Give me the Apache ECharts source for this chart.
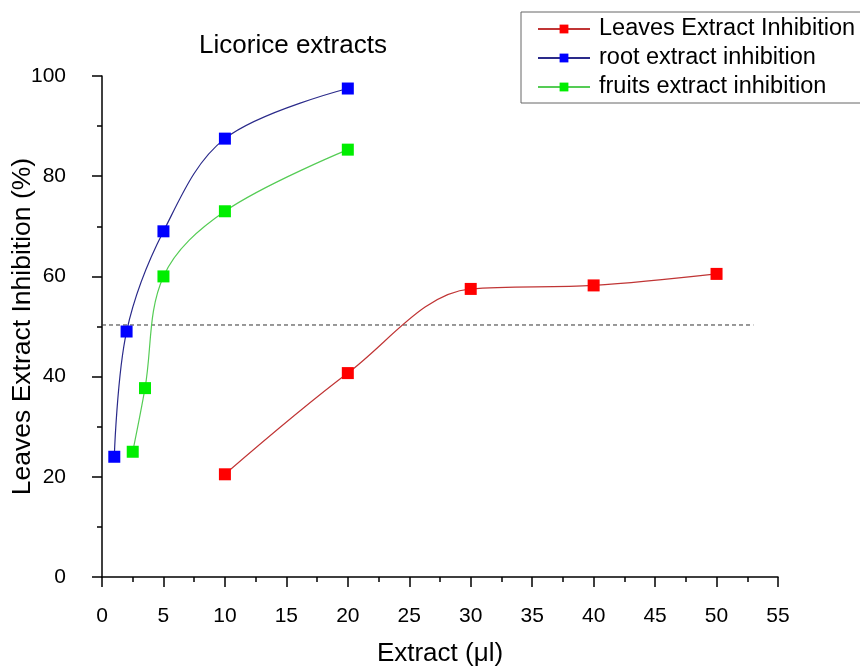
<!DOCTYPE html>
<html>
<head>
<meta charset="utf-8">
<script src="https://cdn.jsdelivr.net/npm/echarts@6/dist/echarts.min.js"></script>
<style>html,body{margin:0;padding:0;background:#fff}#c{width:860px;height:668px}</style>
</head>
<body>
<div id="c"></div>
<script>
const leavesX = [10, 20, 30, 40, 50];
const leavesY = [20.5, 40.7, 57.5, 58.2, 60.5];
const rootX = [1, 2, 5, 10, 20];
const rootY = [24, 49, 69, 87.5, 97.5];
const fruitsX = [2.5, 3.5, 5, 10, 20];
const fruitsY = [25, 37.7, 60, 73, 85.3];
const refX = [0, 53];
const refY = [50.3, 50.3];
const seriesNames = ['Leaves Extract Inhibition', 'root extract inhibition', 'fruits extract inhibition'];

const pair = (xs, ys) => xs.map((x, i) => [x, ys[i]]);
const font = 'Liberation Sans, Arial, sans-serif';

const chart = echarts.init(document.getElementById('c'), null, {renderer: 'canvas'});
function mk(name, xs, ys, mColor, lColor) {
  return {
    name: name, type: 'line', data: pair(xs, ys),
    smooth: 0.35,
    symbol: 'rect', symbolSize: 12,
    itemStyle: {color: mColor},
    lineStyle: {color: lColor, width: 1.2},
    z: 3
  };
}
chart.setOption({
  animation: false,
  backgroundColor: '#fff',
  title: {
    text: 'Licorice extracts', left: 288, top: 28, textAlign: 'center',
    textStyle: {fontFamily: font, fontSize: 26, fontWeight: 'normal', color: '#000'}
  },
  legend: {
    orient: 'vertical', left: 521, top: 12,
    padding: [5, 22, 4, 16],
    borderColor: '#666', borderWidth: 1,
    itemWidth: 52, itemHeight: 11, itemGap: 5,
    data: seriesNames,
    textStyle: {fontFamily: font, fontSize: 23.5, color: '#000', padding: [0, 0, 0, 4]}
  },
  grid: {left: 102, right: 82, top: 76, bottom: 91, containLabel: false, outerBoundsMode: 'none'},
  xAxis: {
    type: 'value', min: 0, max: 55, interval: 5,
    name: 'Extract (\u03bcl)', nameLocation: 'middle', nameGap: 64, nameMoveOverlap: false,
    nameTextStyle: {fontFamily: font, fontSize: 26, color: '#000'},
    axisLine: {onZero: false, lineStyle: {color: '#000', width: 1.5}},
    axisTick: {length: 10, lineStyle: {color: '#000', width: 1.5}},
    minorTick: {show: true, splitNumber: 2, length: 5, lineStyle: {color: '#000', width: 1.5}},
    axisLabel: {fontFamily: font, fontSize: 21, color: '#000', margin: 29},
    splitLine: {show: false}
  },
  yAxis: {
    type: 'value', min: 0, max: 100, interval: 20,
    name: 'Leaves Extract Inhibition (%)', nameLocation: 'middle', nameGap: 66, nameMoveOverlap: false,
    nameTextStyle: {fontFamily: font, fontSize: 26.5, color: '#000'},
    axisLine: {show: true, lineStyle: {color: '#000', width: 1.5}},
    axisTick: {show: true, length: 10, lineStyle: {color: '#000', width: 1.5}},
    minorTick: {show: true, splitNumber: 2, length: 5, lineStyle: {color: '#000', width: 1.5}},
    axisLabel: {fontFamily: font, fontSize: 21, color: '#000', margin: 36},
    splitLine: {show: false}
  },
  series: [
    {
      name: 'ref', type: 'line', data: pair(refX, refY), symbol: 'none',
      lineStyle: {color: '#333', width: 1, type: [4, 3]}, z: 1, silent: true
    },
    mk(seriesNames[0], leavesX, leavesY, '#ff0000', '#c03535'),
    mk(seriesNames[1], rootX, rootY, '#0000ff', '#2a2a8a'),
    mk(seriesNames[2], fruitsX, fruitsY, '#00ee00', '#55cc55')
  ]
});
</script>
</body>
</html>
